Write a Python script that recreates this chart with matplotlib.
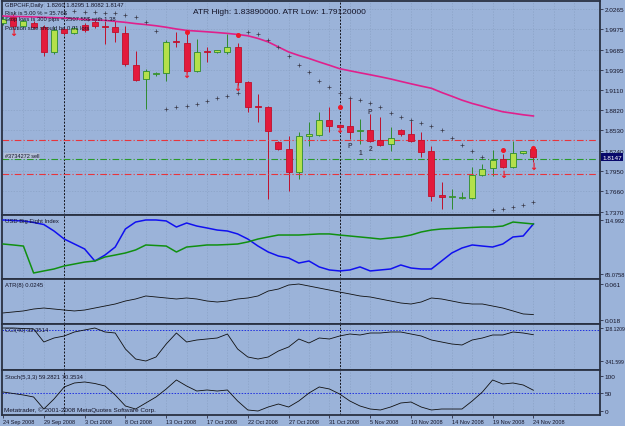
import matplotlib
matplotlib.use('Agg')
import matplotlib.pyplot as plt
import matplotlib.transforms as mtransforms
import numpy as np

plt.rcParams['font.family'] = ['Liberation Sans Narrow', 'Liberation Sans', 'DejaVu Sans']

W, H = 625, 427
BG = '#9bb3d9'
GRID = '#8ba2c6'
TXT = '#141428'
FRAME = '#2a3142'
BULL, BULL_EDGE = '#b4e04a', '#2e8b2e'
BEAR, BEAR_EDGE = '#e31a3c', '#c0102c'

# ---- data (GBPCHF daily, 24 Sep 2008 .. 24 Nov 2008) ----
opens = [2.0065, 2.0151, 2.0022, 2.0065, 2.0008, 1.9651, 1.9979, 1.9922, 2.0036, 2.0079,
         2.0015, 2.0008, 1.9922, 1.9465, 1.9265, 1.9329, 1.9351, 1.9801, 1.9779, 1.9379,
         1.9658, 1.9651, 1.9651, 1.9722, 1.9222, 1.8872, 1.8865, 1.8365, 1.8265, 1.7936,
         1.8450, 1.8465, 1.8679, 1.8608, 1.8593, 1.8515, 1.8536, 1.8393, 1.8336, 1.8536,
         1.8479, 1.8393, 1.8236, 1.7607, 1.7572, 1.7557, 1.7565, 1.7893, 1.7993, 1.8122,
         1.8007, 1.8208, 1.8260]
highs = [2.0179, 2.0194, 2.0122, 2.0094, 2.0036, 2.0008, 2.0008, 2.0022, 2.0065, 2.0122,
         2.0094, 2.0094, 2.0022, 1.9665, 1.9408, 1.9365, 1.9822, 1.9936, 1.9936, 1.9836,
         1.9722, 1.9679, 1.9908, 1.9779, 1.9236, 1.9050, 1.8879, 1.8379, 1.8450, 1.8508,
         1.8650, 1.8793, 1.8865, 1.8622, 1.8979, 1.8693, 1.8765, 1.8722, 1.8579, 1.8550,
         1.8665, 1.8508, 1.8307, 1.7793, 1.7693, 1.7650, 1.8008, 1.8050, 1.8250, 1.8193,
         1.8379, 1.8236, 1.8295]
lows = [2.0036, 1.9994, 2.0008, 1.9979, 1.9593, 1.9622, 1.9894, 1.9908, 1.9936, 1.9994,
        1.9765, 1.9794, 1.9451, 1.9236, 1.8836, 1.9308, 1.9236, 1.9722, 1.9365, 1.9365,
        1.9508, 1.9637, 1.9622, 1.9179, 1.8793, 1.8650, 1.7550, 1.8250, 1.7664, 1.7836,
        1.8307, 1.8450, 1.8508, 1.8536, 1.8408, 1.8336, 1.8365, 1.8307, 1.8236, 1.8450,
        1.8365, 1.8150, 1.7522, 1.7407, 1.7407, 1.7550, 1.7550, 1.7879, 1.7879, 1.7993,
        1.7993, 1.8193, 1.8082]
closes = [2.0122, 2.0022, 2.0094, 2.0008, 1.9651, 1.9965, 1.9922, 1.9994, 1.9965, 2.0022,
          2.0001, 1.9936, 1.9479, 1.9251, 1.9379, 1.9343, 1.9794, 1.9786, 1.9379, 1.9651,
          1.9644, 1.9672, 1.9722, 1.9222, 1.8865, 1.8858, 1.8522, 1.8265, 1.7936, 1.8450,
          1.8479, 1.8679, 1.8593, 1.8579, 1.8508, 1.8529, 1.8379, 1.8322, 1.8422, 1.8479,
          1.8379, 1.8222, 1.7593, 1.7579, 1.7586, 1.7572, 1.7893, 1.7979, 1.8108, 1.8007,
          1.8208, 1.8229, 1.8147]
ma = [2.0164, 2.0159, 2.0155, 2.0151, 2.0145, 2.0141, 2.0135, 2.0126, 2.0116, 2.0108,
      2.0102, 2.0088, 2.0074, 2.0056, 2.0042, 2.0025, 2.0004, 1.9979, 1.9959, 1.9949,
      1.9939, 1.9928, 1.9916, 1.9901, 1.9882, 1.9844, 1.9794, 1.9722, 1.9651, 1.9601,
      1.9558, 1.9508, 1.9461, 1.9412, 1.9382, 1.9353, 1.9325, 1.9296, 1.9265, 1.9230,
      1.9196, 1.9163, 1.9132, 1.9072, 1.9018, 1.8962, 1.8915, 1.8876, 1.8833, 1.8796,
      1.8775, 1.8753, 1.8736]
sar = [None] * 7 + [2.0237, 2.0222, 2.0215, 2.0208, 2.0201, 2.0179, 2.0151, 2.0079, 1.9951,
       1.8836, 1.8865, 1.8879, 1.8908, 1.8950, 1.8993, 1.9022, 1.9065, 1.9936, 1.9908,
       1.9822, 1.9722, 1.9593, 1.9465, 1.9365, 1.9236, 1.9151, 1.9065, 1.8993, 1.8965,
       1.8922, 1.8865, 1.8779, 1.8722, 1.8679, 1.8636, 1.8593, 1.8536, 1.8422, 1.8322,
       1.8236, 1.8150, 1.7393, 1.7407, 1.7436, 1.7464, 1.7507]
dot_bars = [18, 23, 33, 49, 52]
dot_prices = [1.9936, 1.9894, 1.8865, 1.8250, 1.8279]
arrow_bars = [1, 18, 23, 33, 49, 52]
arrow_prices = [1.9936, 1.9336, 1.9150, 1.8550, 1.7907, 1.8022]
pivot_marks = [(36, 1.8793, 'P'), (34, 1.8307, 'P'), (35, 1.8207, '1'), (36, 1.8265, '2')]
atr_high, atr_low = 1.8389, 1.7912
order_price = 1.8115
last_price = 1.8147

usd_blue = [115.0, 114.5, 114.1, 112.7, 110.8, 104.8, 97.4, 92.8, 88.2, 77.1,
            82.6, 90.0, 106.7, 113.1, 115.0, 115.0, 114.1, 108.5, 112.2, 109.4,
            107.6, 105.7, 104.8, 102.1, 97.4, 90.9, 85.4, 81.7, 79.9, 75.2,
            77.1, 71.6, 68.8, 67.9, 68.8, 71.6, 67.9, 68.8, 69.7, 73.4,
            70.6, 69.7, 69.7, 77.1, 84.5, 89.1, 91.9, 90.9, 90.0, 92.8,
            99.3, 100.2, 111.3]
usd_green = [92.8, 91.9, 90.9, 66.0, 67.9, 69.7, 72.5, 74.3, 76.1, 77.1,
             80.8, 82.6, 84.5, 87.3, 91.9, 91.4, 90.9, 85.4, 90.0, 90.9,
             91.9, 91.9, 92.3, 92.8, 94.7, 97.4, 99.3, 101.1, 101.1, 101.1,
             101.6, 102.1, 102.1, 101.1, 100.2, 99.3, 98.4, 97.4, 98.4, 99.3,
             101.1, 103.9, 105.7, 106.7, 107.1, 107.6, 108.1, 108.5, 108.5, 109.4,
             113.1, 112.2, 111.3]
atr = [0.0264, 0.0276, 0.0288, 0.0311, 0.0323, 0.0311, 0.0299, 0.0288, 0.0299, 0.0323,
       0.0347, 0.0371, 0.0407, 0.0431, 0.0467, 0.0455, 0.0443, 0.0431, 0.0443, 0.0431,
       0.0407, 0.0395, 0.0407, 0.0431, 0.0443, 0.0467, 0.0526, 0.0550, 0.0598, 0.0610,
       0.0586, 0.0562, 0.0538, 0.0514, 0.0491, 0.0467, 0.0455, 0.0431, 0.0407, 0.0383,
       0.0371, 0.0395, 0.0443, 0.0431, 0.0407, 0.0383, 0.0371, 0.0371, 0.0347, 0.0323,
       0.0288, 0.0252, 0.0245]
cci = [128.1, 128.1, 121.0, 114.0, -71.1, -14.2, 14.3, 71.2, 99.7, 128.1,
       71.2, 57.0, -170.7, -313.0, -341.6, -284.5, -99.6, 57.0, -71.1, -42.6,
       -28.4, -14.2, 42.7, -170.7, -284.5, -313.0, -284.5, -199.2, -142.2, -28.4,
       -85.3, -14.2, -28.4, 14.3, 42.7, 28.5, 57.0, 57.0, 71.2, 71.2,
       42.7, 14.3, -42.6, -71.1, -99.6, -113.8, -42.6, -14.2, 28.5, 28.5,
       71.2, 57.0, 32.35]
stoch = [54.3, 50.0, 45.7, 40.0, 5.7, 34.3, 68.6, 80.0, 82.9, 78.6,
         71.4, 45.7, 14.3, 5.7, 22.9, 40.0, 62.9, 88.6, 71.4, 57.1,
         60.0, 57.1, 60.0, 28.6, 2.9, 0.0, 11.4, 20.0, 11.4, 28.6,
         51.4, 68.6, 62.9, 48.6, 28.6, 14.3, 5.7, 2.9, 11.4, 22.9,
         25.7, 11.4, 2.9, 5.7, 5.7, 5.7, 28.6, 54.3, 88.6, 77.1,
         80.0, 74.3, 59.3]

price_ticks = [2.0265, 1.9975, 1.9685, 1.9395, 1.9110, 1.8820, 1.8530, 1.8240, 1.7950, 1.7660, 1.7370]
date_bars = [0, 4, 8, 12, 16, 20, 24, 28, 32, 36, 40, 44, 48, 52]
date_labels = ['24 Sep 2008', '29 Sep 2008', '3 Oct 2008', '8 Oct 2008', '13 Oct 2008',
               '17 Oct 2008', '22 Oct 2008', '27 Oct 2008', '31 Oct 2008', '5 Nov 2008',
               '10 Nov 2008', '14 Nov 2008', '19 Nov 2008', '24 Nov 2008']
separator_bars = [6, 33]

# ---- figure / panels ----
fig = plt.figure(figsize=(W / 100, H / 100), dpi=100, facecolor=BG)


def px_axes(top, bottom):
    return fig.add_axes([2 / W, 1 - bottom / H, 598 / W, (bottom - top) / H])


def ftxt(x, y, s, **kw):
    kw.setdefault('color', TXT)
    kw.setdefault('va', 'center')
    kw.setdefault('fontsize', 4.2)
    fig.text(x / W, 1 - y / H, s, **kw)


ax_main = px_axes(2, 216)
ax_usd = px_axes(216, 280)
ax_atr = px_axes(280, 325)
ax_cci = px_axes(325, 371)
ax_sto = px_axes(371, 416)
axes = [ax_main, ax_usd, ax_atr, ax_cci, ax_sto]

n = len(opens)
x = np.arange(n)
for ax in axes:
    ax.set_facecolor(BG)
    ax.set_xlim(-0.1, 58.53)
    for sp in ax.spines.values():
        sp.set_color(FRAME)
        sp.set_linewidth(1.3)
    ax.yaxis.tick_right()
    ax.tick_params(axis='y', direction='out', length=2, width=0.5, colors=TXT,
                   labelsize=4.6, pad=1.5)
    ax.tick_params(axis='x', bottom=False, labelbottom=False)
    for b in range(2, 58, 2):
        if b not in separator_bars:
            ax.axvline(b, color=GRID, lw=0.5, ls=(0, (2, 2)), zorder=0)
    for b in separator_bars:
        ax.axvline(b, color='#101018', lw=0.7, ls=(0, (2, 1.5)), zorder=1)

# ---- main price panel ----
ax = ax_main
ax.set_ylim(1.7321, 2.0379)
ax.set_yticks(price_ticks)
ax.set_yticklabels([f'{p:.4f}' for p in price_ticks])
for p in price_ticks:
    ax.axhline(p, color=GRID, lw=0.5, ls=(0, (2, 2)), zorder=0)

o = np.array(opens); c = np.array(closes); hi = np.array(highs); lo = np.array(lows)
up = c >= o
body_lo = np.minimum(o, c)
body_h = np.maximum(np.abs(c - o), 0.0008)
ax.vlines(x[up], lo[up], hi[up], color=BULL_EDGE, lw=0.7, zorder=2)
ax.vlines(x[~up], lo[~up], hi[~up], color=BEAR_EDGE, lw=0.7, zorder=2)
ax.bar(x[up], body_h[up], 0.6, bottom=body_lo[up], color=BULL, edgecolor=BULL_EDGE,
       linewidth=0.6, zorder=3)
ax.bar(x[~up], body_h[~up], 0.6, bottom=body_lo[~up], color=BEAR, edgecolor=BEAR_EDGE,
       linewidth=0.6, zorder=3)

ax.plot(x, ma, color='#e0208c', lw=1.2, zorder=4)
ax.plot(x, np.array(sar, dtype=float), ls='none', marker='+', ms=2.6, mew=0.5,
        color='#3a3a48', zorder=4)
ax.plot(dot_bars, dot_prices, ls='none', marker='o', ms=2.6, color='#f01828', zorder=5)
for b, p in zip(arrow_bars, arrow_prices):
    ax.text(b, p, '\u2193', color='#f01828', fontsize=7, fontweight='bold',
            ha='center', va='center', family='DejaVu Sans', zorder=5)
for b, p, s in pivot_marks:
    ax.text(b, p, s, color='#404052', fontsize=4.8, fontweight='bold',
            ha='center', va='center', zorder=5)

ax.axhline(atr_high, xmax=0.993, color='#e8343c', lw=0.8, ls=(0, (6, 2, 1, 2)), zorder=2)
ax.axhline(atr_low, xmax=0.993, color='#e8343c', lw=0.8, ls=(0, (6, 2, 1, 2)), zorder=2)
ax.axhline(order_price, xmax=0.993, color='#2a9a2a', lw=0.8, ls=(0, (6, 2, 1, 2)), zorder=2)

trans = mtransforms.blended_transform_factory(ax.transAxes, ax.transData)
ax.text(1.004, last_price, f'{last_price:.4f}', transform=trans, ha='left', va='center',
        fontsize=4.6, color='white', zorder=6,
        bbox=dict(boxstyle='square,pad=0.2', fc='#08086a', ec='none'))

ftxt(5, 6, 'GBPCHF,Daily  1.8260 1.8295 1.8082 1.8147')
ftxt(5, 13, 'Risk is 5.00 % = 35.76$')
ftxt(5, 20, 'Stop loss is 300 pips = 2507.55$ with 1.38')
ftxt(5, 28, 'Position size should be 0.01 lots')
ftxt(193, 12, 'ATR High: 1.83890000. ATR Low: 1.79120000', fontsize=6,
     family=['Liberation Sans', 'DejaVu Sans'])
ftxt(5, 157, '#3734272 sell', fontsize=4.0,
     bbox=dict(boxstyle='square,pad=0.15', fc='#b3bfd6', ec='none'))

# ---- USD Big Eight Index ----
ax = ax_usd
ax.set_ylim(60.45, 119.6)
ax.set_yticks([114.992, 65.0758])
ax.set_yticklabels(['114.992', '65.0758'], fontsize=4.1)
ax.plot(x, usd_blue, color='#1010f0', lw=1.1, zorder=3)
ax.plot(x, usd_green, color='#109010', lw=1.1, zorder=3)
ftxt(5, 222, 'USD Big Eight Index')

# ---- ATR ----
ax = ax_atr
ax.set_ylim(0.0132, 0.0670)
ax.set_yticks([0.061, 0.018])
ax.set_yticklabels(['0.061', '0.018'])
ax.plot(x, atr, color='#101010', lw=0.6, zorder=3)
ftxt(5, 286, 'ATR(8) 0.0245')

# ---- CCI ----
ax = ax_cci
ax.set_ylim(-469.5, 185.0)
ax.set_yticks([128.1209, -341.599])
ax.set_yticklabels(['128.1209', '-341.599'], fontsize=3.6)
ax.axhline(100, color='#2030e0', lw=0.7, ls=(0, (1.5, 1.5)), zorder=2)
ax.plot(x, cci, color='#101010', lw=0.6, zorder=3)
ftxt(5, 331, 'CCI(40) 32.3514')

# ---- Stochastic ----
ax = ax_sto
ax.set_ylim(-11.4, 117.1)
ax.set_yticks([100, 50, 0])
ax.set_yticklabels(['100', '50', '0'])
ax.axhline(50, color='#2030e0', lw=0.7, ls=(0, (1.5, 1.5)), zorder=2)
ax.plot(x, stoch, color='#101010', lw=0.6, zorder=3)
ftxt(5, 378, 'Stoch(5,3,3) 59.2821 70.3534')
ftxt(4, 410, 'Metatrader, \u00a9 2001-2008 MetaQuotes Software Corp.', fontsize=4.6)

ax.tick_params(axis='x', bottom=True, labelbottom=True, direction='out', length=2,
               width=0.5, colors=TXT, labelsize=4.0, pad=1)
ax.set_xticks(date_bars)
ax.set_xticklabels(date_labels, ha='left')

fig.savefig('out.png', dpi=100, facecolor=BG)
